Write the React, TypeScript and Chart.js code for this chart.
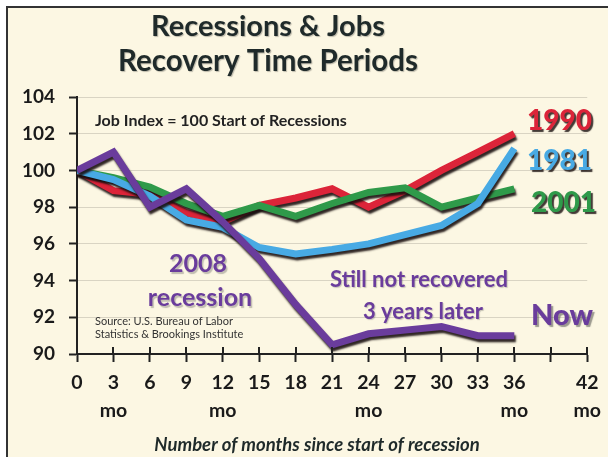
import React, { useEffect, useRef } from "react";
import { Chart, registerables } from "chart.js";

Chart.register(...registerables);

// ---- data ----
const months = [0, 3, 6, 9, 12, 15, 18, 21, 24, 27, 30, 33, 36];
const jobs2008 = [100, 101, 98, 99, 97.2, 95.2, 92.7, 90.5, 91.1, 91.3, 91.5, 91.0, 91.0];
const jobs1981 = [100, 99.5, 98.6, 97.3, 96.9, 95.8, 95.45, 95.7, 96.0, 96.5, 97.0, 98.2, 101.2];
const jobs2001 = [100, 99.6, 99.1, 98.2, 97.5, 98.1, 97.5, 98.2, 98.8, 99.05, 98.0, 98.5, 99.0];
const jobs1990 = [100, 98.9, 98.7, 97.7, 97.2, 98.1, 98.5, 99.0, 98.0, 98.9, 100, 101, 102];

const xTickMonths = [0, 3, 6, 9, 12, 15, 18, 21, 24, 27, 30, 33, 36, 39, 42];
const xTickNumbers = ["0", "3", "6", "9", "12", "15", "18", "21", "24", "27", "30", "33", "36", "", "42"];
const xTickUnits = ["", "mo", "", "", "mo", "", "", "", "mo", "", "", "", "mo", "", "mo"];
const yTicks = [90, 92, 94, 96, 98, 100, 102, 104];

const seriesNames = ["Now (2008)", "1981", "2001", "1990"];

const FONT = "Lato, 'Open Sans', sans-serif";
const PURPLE = "#6a3c9c";
const BLUE = "#48aae4";
const GREEN = "#2f9a4a";
const RED = "#dc2439";

const toPoints = (vals: number[]) => vals.map((v, i) => ({ x: months[i], y: v }));

const lineShadowPlugin = {
  id: "lineShadow",
  beforeDatasetDraw(chart: any) {
    const ctx = chart.ctx;
    ctx.save();
    ctx.shadowColor = "rgba(25,15,15,0.9)";
    ctx.shadowOffsetX = 1.5;
    ctx.shadowOffsetY = 3;
    ctx.shadowBlur = 2;
  },
  afterDatasetDraw(chart: any) {
    chart.ctx.restore();
  },
};

const xTickInnerPlugin = {
  id: "xTickInner",
  afterDraw(chart: any) {
    const ctx = chart.ctx;
    const xs = chart.scales.x;
    const bottom = chart.chartArea.bottom;
    ctx.save();
    ctx.strokeStyle = "#222";
    ctx.lineWidth = 2;
    xTickMonths.forEach((m) => {
      const px = Math.round(xs.getPixelForValue(m));
      ctx.beginPath();
      ctx.moveTo(px, bottom);
      ctx.lineTo(px, bottom - 7);
      ctx.stroke();
    });
    ctx.restore();
  },
};

type Txt = {
  t: string;
  x: number;
  y: number;
  font: string;
  color: string;
  align?: CanvasTextAlign;
  shadow?: string;
  sx?: number;
  sy?: number;
};

const texts: Txt[] = [
  { t: "Recessions & Jobs", x: 262, y: 30, font: `bold 29px ${FONT}`, color: "#1f2a2a", align: "center", shadow: "rgba(0,0,0,0.25)", sx: 1, sy: 1 },
  { t: "Recovery Time Periods", x: 262, y: 65, font: `bold 29.5px ${FONT}`, color: "#1f2a2a", align: "center", shadow: "rgba(0,0,0,0.25)", sx: 1, sy: 1 },
  { t: "Job Index = 100 Start of Recessions", x: 89, y: 119.5, font: `bold 16px ${FONT}`, color: "#222", align: "left" },
  { t: "1990", x: 521, y: 124, font: `900 28px ${FONT}`, color: RED, align: "left", shadow: "rgba(20,10,10,0.8)", sx: 2, sy: 2 },
  { t: "1981", x: 521, y: 164, font: `900 28px ${FONT}`, color: BLUE, align: "left", shadow: "rgba(20,10,10,0.8)", sx: 2, sy: 2 },
  { t: "2001", x: 525, y: 206, font: `900 28px ${FONT}`, color: GREEN, align: "left", shadow: "rgba(20,10,10,0.8)", sx: 2, sy: 2 },
  { t: "Now", x: 525, y: 319, font: `900 29px ${FONT}`, color: PURPLE, align: "left", shadow: "rgba(60,60,60,0.5)", sx: 2, sy: 2 },
  { t: "2008", x: 192, y: 266, font: `bold 25px ${FONT}`, color: PURPLE, align: "center", shadow: "rgba(80,80,80,0.35)", sx: 1.5, sy: 1.5 },
  { t: "recession", x: 194, y: 300, font: `bold 25px ${FONT}`, color: PURPLE, align: "center", shadow: "rgba(80,80,80,0.35)", sx: 1.5, sy: 1.5 },
  { t: "Still not recovered", x: 413, y: 281, font: `bold 22px ${FONT}`, color: PURPLE, align: "center", shadow: "rgba(80,80,80,0.3)", sx: 1, sy: 1 },
  { t: "3 years later", x: 417, y: 313, font: `bold 22px ${FONT}`, color: PURPLE, align: "center", shadow: "rgba(80,80,80,0.3)", sx: 1, sy: 1 },
  { t: "Source: U.S. Bureau of Labor", x: 89, y: 319, font: `11px ${FONT}`, color: "#333", align: "left" },
  { t: "Statistics & Brookings Institute", x: 89, y: 332, font: `11px ${FONT}`, color: "#333", align: "left" },
  { t: "Number of months since start of recession", x: 311, y: 445, font: `italic bold 18.5px ${FONT}`, color: "#1f2a2a", align: "center" },
];

const textPlugin = {
  id: "texts",
  afterDraw(chart: any) {
    const ctx = chart.ctx;
    texts.forEach((d) => {
      ctx.save();
      ctx.font = d.font;
      ctx.fillStyle = d.color;
      ctx.textAlign = d.align || "left";
      ctx.textBaseline = "alphabetic";
      if (d.shadow) {
        ctx.shadowColor = d.shadow;
        ctx.shadowOffsetX = d.sx || 1;
        ctx.shadowOffsetY = d.sy || 1;
        ctx.shadowBlur = 1;
      }
      ctx.fillText(d.t, d.x, d.y);
      ctx.restore();
    });
  },
};

export default function App() {
  const ref = useRef<HTMLCanvasElement | null>(null);

  useEffect(() => {
    if (!ref.current) return;
    const data = [jobs2008, jobs1981, jobs2001, jobs1990];
    const colors = [PURPLE, BLUE, GREEN, RED];
    const chart = new Chart(ref.current, {
      type: "line",
      data: {
        datasets: data.map((vals, i) => ({
          label: seriesNames[i],
          data: toPoints(vals),
          borderColor: colors[i],
          backgroundColor: colors[i],
          borderWidth: 7,
          pointRadius: 0,
          tension: 0,
          borderJoinStyle: "miter" as const,
          borderCapStyle: "butt" as const,
          fill: false,
        })),
      },
      options: {
        responsive: false,
        devicePixelRatio: 1,
        animation: false,
        layout: { padding: { top: 91, right: 15, left: 0, bottom: 0 } },
        plugins: {
          legend: { display: false },
          title: { display: false },
          tooltip: { enabled: false },
        },
        scales: {
          x: {
            type: "linear",
            min: 0,
            max: 42,
            afterBuildTicks: (scale: any) => {
              scale.ticks = xTickMonths.map((v) => ({ value: v }));
            },
            afterFit: (scale: any) => {
              scale.height = 103;
            },
            ticks: {
              autoSkip: false,
              maxRotation: 0,
              padding: 7,
              color: "#1a1a1a",
              font: { family: FONT, weight: "bold", size: 19.5, lineHeight: 1.42 },
              callback: (value: any) => {
                const i = xTickMonths.indexOf(Number(value));
                if (i < 0) return "";
                return [xTickNumbers[i], xTickUnits[i]];
              },
            },
            grid: {
              drawOnChartArea: false,
              tickLength: 8,
              tickColor: "#222",
              tickWidth: 2,
            },
            border: { display: true, color: "#222", width: 2 },
          },
          y: {
            min: 90,
            max: 104,
            afterBuildTicks: (scale: any) => {
              scale.ticks = yTicks.map((v) => ({ value: v }));
            },
            afterFit: (scale: any) => {
              scale.width = 71;
            },
            ticks: {
              padding: 14,
              color: "#1a1a1a",
              font: { family: FONT, weight: "bold", size: 19 },
            },
            grid: {
              color: "#d9d4c3",
              lineWidth: 1,
              tickLength: 8,
              tickColor: "#222",
              tickWidth: 2,
            },
            border: { display: true, color: "#222", width: 2 },
          },
        },
      },
      plugins: [lineShadowPlugin, xTickInnerPlugin, textPlugin],
    });
    return () => chart.destroy();
  }, []);

  return (
    <div
      style={{
        position: "absolute",
        left: 6,
        top: 6,
        width: 602,
        height: 451,
        background: "#fcf7e3",
        boxShadow: "inset 2px 2px 0 #333",
      }}
    >
      <canvas ref={ref} width={602} height={451} style={{ display: "block" }} />
    </div>
  );
}
